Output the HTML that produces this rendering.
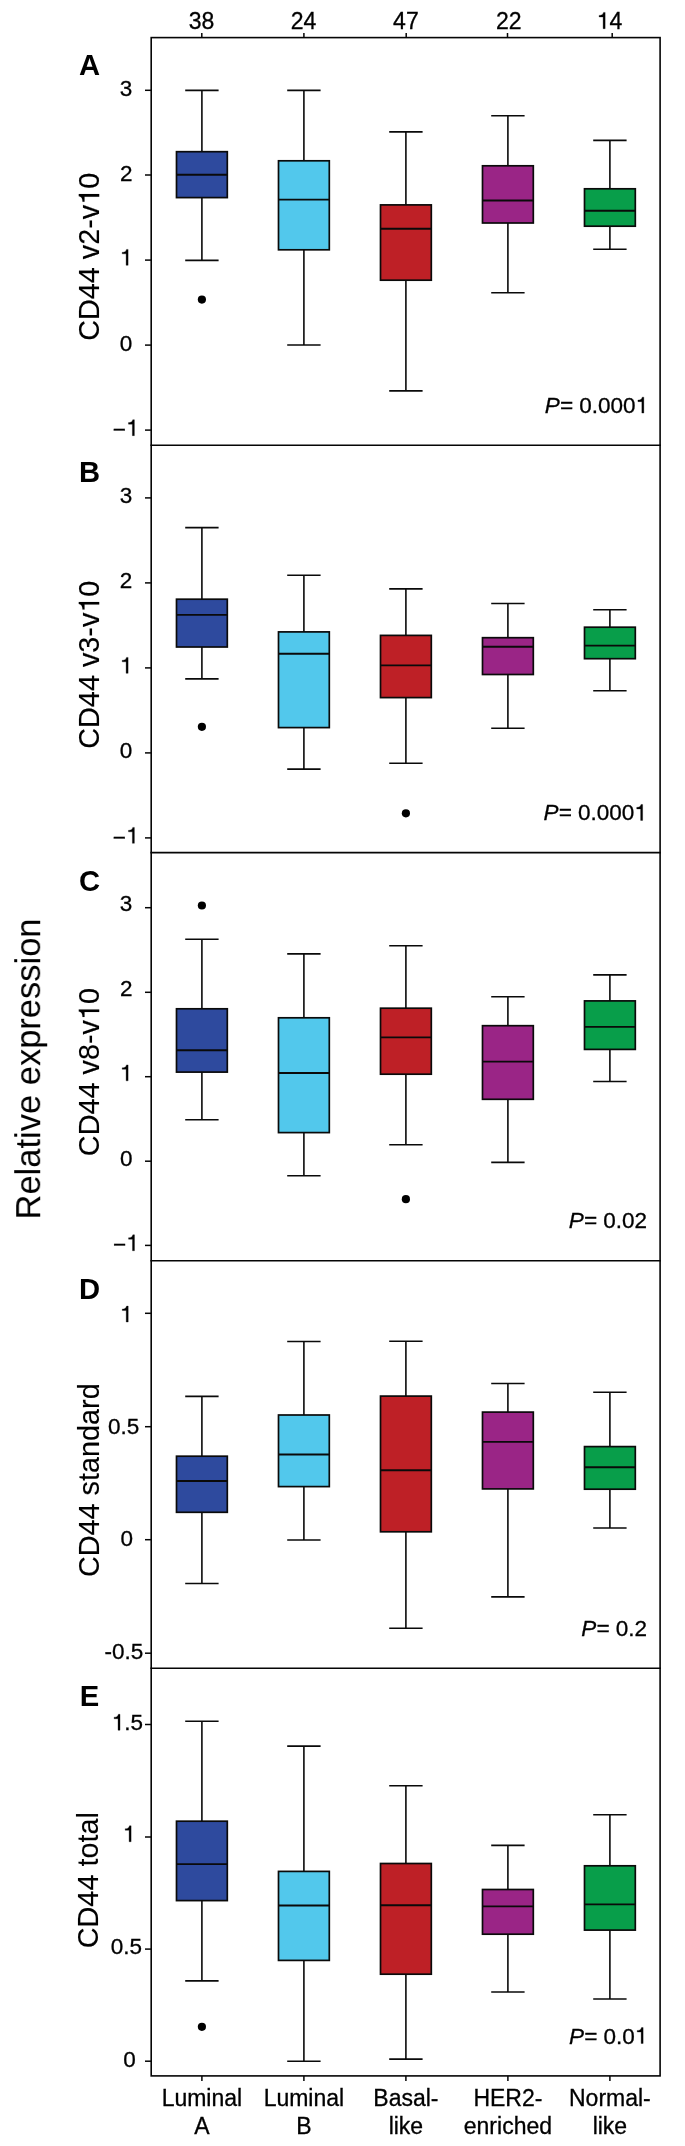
<!DOCTYPE html>
<html><head><meta charset="utf-8"><title>CD44 isoform expression by subtype</title>
<style>
html,body{margin:0;padding:0;background:#fff;}
body{width:685px;height:2146px;overflow:hidden;font-family:"Liberation Sans",sans-serif;}
svg{display:block;}
</style></head>
<body>
<svg width="685" height="2146" viewBox="0 0 685 2146">
<rect width="685" height="2146" fill="#fff"/>
<g stroke="#050505" stroke-width="1.6" fill="none" stroke-linecap="square">
<rect x="151.2" y="37.6" width="508.9" height="2038.3"/>
<line x1="151.2" y1="445.2" x2="660.1" y2="445.2"/>
<line x1="151.2" y1="852.6" x2="660.1" y2="852.6"/>
<line x1="151.2" y1="1260.8" x2="660.1" y2="1260.8"/>
<line x1="151.2" y1="1668.3" x2="660.1" y2="1668.3"/>
</g>
<g stroke="#050505" stroke-width="1.5" fill="none">
<line x1="201.8" y1="33" x2="201.8" y2="37.6"/>
<line x1="201.9" y1="2075.9" x2="201.9" y2="2080.9"/>
<line x1="303.9" y1="33" x2="303.9" y2="37.6"/>
<line x1="303.9" y1="2075.9" x2="303.9" y2="2080.9"/>
<line x1="406.2" y1="33" x2="406.2" y2="37.6"/>
<line x1="405.9" y1="2075.9" x2="405.9" y2="2080.9"/>
<line x1="507.5" y1="33" x2="507.5" y2="37.6"/>
<line x1="507.9" y1="2075.9" x2="507.9" y2="2080.9"/>
<line x1="612.2" y1="33" x2="612.2" y2="37.6"/>
<line x1="609.9" y1="2075.9" x2="609.9" y2="2080.9"/>
<line x1="145" y1="90.3" x2="151.2" y2="90.3"/>
<line x1="145" y1="175" x2="151.2" y2="175"/>
<line x1="145" y1="260.1" x2="151.2" y2="260.1"/>
<line x1="145" y1="345.1" x2="151.2" y2="345.1"/>
<line x1="145" y1="430.1" x2="151.2" y2="430.1"/>
<line x1="145" y1="497.9" x2="151.2" y2="497.9"/>
<line x1="145" y1="582.9" x2="151.2" y2="582.9"/>
<line x1="145" y1="667.9" x2="151.2" y2="667.9"/>
<line x1="145" y1="752.9" x2="151.2" y2="752.9"/>
<line x1="145" y1="837.9" x2="151.2" y2="837.9"/>
<line x1="145" y1="907.7" x2="151.2" y2="907.7"/>
<line x1="145" y1="992.3" x2="151.2" y2="992.3"/>
<line x1="145" y1="1076.7" x2="151.2" y2="1076.7"/>
<line x1="145" y1="1161.2" x2="151.2" y2="1161.2"/>
<line x1="145" y1="1245.4" x2="151.2" y2="1245.4"/>
<line x1="145" y1="1313.3" x2="151.2" y2="1313.3"/>
<line x1="145" y1="1426.7" x2="151.2" y2="1426.7"/>
<line x1="145" y1="1539.7" x2="151.2" y2="1539.7"/>
<line x1="145" y1="1653.2" x2="151.2" y2="1653.2"/>
<line x1="145" y1="1724.5" x2="151.2" y2="1724.5"/>
<line x1="145" y1="1837" x2="151.2" y2="1837"/>
<line x1="145" y1="1949.1" x2="151.2" y2="1949.1"/>
<line x1="145" y1="2061.2" x2="151.2" y2="2061.2"/>
</g>
<path d="M201.9 90.4V151.7M201.9 197.6V260.4M185.2 90.4H218.6M185.2 260.4H218.6" fill="none" stroke="#0a0a0a" stroke-width="1.6"/><rect x="176.5" y="151.7" width="50.8" height="45.9" fill="#2E4A9E" stroke="#0a0a0a" stroke-width="1.7"/><line x1="176.5" y1="174.8" x2="227.3" y2="174.8" stroke="#0a0a0a" stroke-width="1.9"/><circle cx="201.9" cy="299.6" r="4.1" fill="#000"/>
<path d="M303.9 90.4V160.8M303.9 249.8V345M287.2 90.4H320.6M287.2 345H320.6" fill="none" stroke="#0a0a0a" stroke-width="1.6"/><rect x="278.5" y="160.8" width="50.8" height="89" fill="#52C8EC" stroke="#0a0a0a" stroke-width="1.7"/><line x1="278.5" y1="199.6" x2="329.3" y2="199.6" stroke="#0a0a0a" stroke-width="1.9"/>
<path d="M405.9 131.9V204.9M405.9 280.2V390.9M389.2 131.9H422.6M389.2 390.9H422.6" fill="none" stroke="#0a0a0a" stroke-width="1.6"/><rect x="380.5" y="204.9" width="50.8" height="75.3" fill="#BE2026" stroke="#0a0a0a" stroke-width="1.7"/><line x1="380.5" y1="228.8" x2="431.3" y2="228.8" stroke="#0a0a0a" stroke-width="1.9"/>
<path d="M507.9 115.8V165.8M507.9 223V292.8M491.2 115.8H524.6M491.2 292.8H524.6" fill="none" stroke="#0a0a0a" stroke-width="1.6"/><rect x="482.5" y="165.8" width="50.8" height="57.2" fill="#9A2586" stroke="#0a0a0a" stroke-width="1.7"/><line x1="482.5" y1="200.5" x2="533.3" y2="200.5" stroke="#0a0a0a" stroke-width="1.9"/>
<path d="M609.9 140.4V188.8M609.9 226.2V249.3M593.2 140.4H626.6M593.2 249.3H626.6" fill="none" stroke="#0a0a0a" stroke-width="1.6"/><rect x="584.5" y="188.8" width="50.8" height="37.4" fill="#089E4A" stroke="#0a0a0a" stroke-width="1.7"/><line x1="584.5" y1="210.7" x2="635.3" y2="210.7" stroke="#0a0a0a" stroke-width="1.9"/>
<path d="M201.9 527.6V599.2M201.9 647V678.9M185.2 527.6H218.6M185.2 678.9H218.6" fill="none" stroke="#0a0a0a" stroke-width="1.6"/><rect x="176.5" y="599.2" width="50.8" height="47.8" fill="#2E4A9E" stroke="#0a0a0a" stroke-width="1.7"/><line x1="176.5" y1="614.9" x2="227.3" y2="614.9" stroke="#0a0a0a" stroke-width="1.9"/><circle cx="201.9" cy="726.8" r="4.1" fill="#000"/>
<path d="M303.9 575.2V631.9M303.9 727.6V769.1M287.2 575.2H320.6M287.2 769.1H320.6" fill="none" stroke="#0a0a0a" stroke-width="1.6"/><rect x="278.5" y="631.9" width="50.8" height="95.7" fill="#52C8EC" stroke="#0a0a0a" stroke-width="1.7"/><line x1="278.5" y1="653.8" x2="329.3" y2="653.8" stroke="#0a0a0a" stroke-width="1.9"/>
<path d="M405.9 588.9V635.4M405.9 697.6V763.2M389.2 588.9H422.6M389.2 763.2H422.6" fill="none" stroke="#0a0a0a" stroke-width="1.6"/><rect x="380.5" y="635.4" width="50.8" height="62.2" fill="#BE2026" stroke="#0a0a0a" stroke-width="1.7"/><line x1="380.5" y1="665.4" x2="431.3" y2="665.4" stroke="#0a0a0a" stroke-width="1.9"/><circle cx="405.9" cy="813.3" r="4.1" fill="#000"/>
<path d="M507.9 603.5V637.7M507.9 674.5V728.2M491.2 603.5H524.6M491.2 728.2H524.6" fill="none" stroke="#0a0a0a" stroke-width="1.6"/><rect x="482.5" y="637.7" width="50.8" height="36.8" fill="#9A2586" stroke="#0a0a0a" stroke-width="1.7"/><line x1="482.5" y1="646.8" x2="533.3" y2="646.8" stroke="#0a0a0a" stroke-width="1.9"/>
<path d="M609.9 609.7V627.2M609.9 658.7V690.8M593.2 609.7H626.6M593.2 690.8H626.6" fill="none" stroke="#0a0a0a" stroke-width="1.6"/><rect x="584.5" y="627.2" width="50.8" height="31.5" fill="#089E4A" stroke="#0a0a0a" stroke-width="1.7"/><line x1="584.5" y1="645.6" x2="635.3" y2="645.6" stroke="#0a0a0a" stroke-width="1.9"/>
<path d="M201.9 939.3V1008.8M201.9 1072.1V1119.7M185.2 939.3H218.6M185.2 1119.7H218.6" fill="none" stroke="#0a0a0a" stroke-width="1.6"/><rect x="176.5" y="1008.8" width="50.8" height="63.3" fill="#2E4A9E" stroke="#0a0a0a" stroke-width="1.7"/><line x1="176.5" y1="1050.2" x2="227.3" y2="1050.2" stroke="#0a0a0a" stroke-width="1.9"/><circle cx="201.9" cy="905.5" r="4.1" fill="#000"/>
<path d="M303.9 953.9V1017.8M303.9 1132.6V1175.8M287.2 953.9H320.6M287.2 1175.8H320.6" fill="none" stroke="#0a0a0a" stroke-width="1.6"/><rect x="278.5" y="1017.8" width="50.8" height="114.8" fill="#52C8EC" stroke="#0a0a0a" stroke-width="1.7"/><line x1="278.5" y1="1073" x2="329.3" y2="1073" stroke="#0a0a0a" stroke-width="1.9"/>
<path d="M405.9 945.7V1008.2M405.9 1074.2V1144.8M389.2 945.7H422.6M389.2 1144.8H422.6" fill="none" stroke="#0a0a0a" stroke-width="1.6"/><rect x="380.5" y="1008.2" width="50.8" height="66" fill="#BE2026" stroke="#0a0a0a" stroke-width="1.7"/><line x1="380.5" y1="1037.4" x2="431.3" y2="1037.4" stroke="#0a0a0a" stroke-width="1.9"/><circle cx="405.9" cy="1199.2" r="4.1" fill="#000"/>
<path d="M507.9 996.8V1025.7M507.9 1099.3V1162.4M491.2 996.8H524.6M491.2 1162.4H524.6" fill="none" stroke="#0a0a0a" stroke-width="1.6"/><rect x="482.5" y="1025.7" width="50.8" height="73.6" fill="#9A2586" stroke="#0a0a0a" stroke-width="1.7"/><line x1="482.5" y1="1061.6" x2="533.3" y2="1061.6" stroke="#0a0a0a" stroke-width="1.9"/>
<path d="M609.9 974.9V1000.9M609.9 1049.4V1081.5M593.2 974.9H626.6M593.2 1081.5H626.6" fill="none" stroke="#0a0a0a" stroke-width="1.6"/><rect x="584.5" y="1000.9" width="50.8" height="48.5" fill="#089E4A" stroke="#0a0a0a" stroke-width="1.7"/><line x1="584.5" y1="1026.9" x2="635.3" y2="1026.9" stroke="#0a0a0a" stroke-width="1.9"/>
<path d="M201.9 1396.4V1456.2M201.9 1512.3V1583.5M185.2 1396.4H218.6M185.2 1583.5H218.6" fill="none" stroke="#0a0a0a" stroke-width="1.6"/><rect x="176.5" y="1456.2" width="50.8" height="56.1" fill="#2E4A9E" stroke="#0a0a0a" stroke-width="1.7"/><line x1="176.5" y1="1481" x2="227.3" y2="1481" stroke="#0a0a0a" stroke-width="1.9"/>
<path d="M303.9 1341.5V1415M303.9 1486.6V1540M287.2 1341.5H320.6M287.2 1540H320.6" fill="none" stroke="#0a0a0a" stroke-width="1.6"/><rect x="278.5" y="1415" width="50.8" height="71.6" fill="#52C8EC" stroke="#0a0a0a" stroke-width="1.7"/><line x1="278.5" y1="1454.5" x2="329.3" y2="1454.5" stroke="#0a0a0a" stroke-width="1.9"/>
<path d="M405.9 1341.2V1396.1M405.9 1531.8V1628.2M389.2 1341.2H422.6M389.2 1628.2H422.6" fill="none" stroke="#0a0a0a" stroke-width="1.6"/><rect x="380.5" y="1396.1" width="50.8" height="135.7" fill="#BE2026" stroke="#0a0a0a" stroke-width="1.7"/><line x1="380.5" y1="1470.2" x2="431.3" y2="1470.2" stroke="#0a0a0a" stroke-width="1.9"/>
<path d="M507.9 1383.5V1412.1M507.9 1488.9V1596.9M491.2 1383.5H524.6M491.2 1596.9H524.6" fill="none" stroke="#0a0a0a" stroke-width="1.6"/><rect x="482.5" y="1412.1" width="50.8" height="76.8" fill="#9A2586" stroke="#0a0a0a" stroke-width="1.7"/><line x1="482.5" y1="1441.9" x2="533.3" y2="1441.9" stroke="#0a0a0a" stroke-width="1.9"/>
<path d="M609.9 1392.3V1446.6M609.9 1489.2V1528M593.2 1392.3H626.6M593.2 1528H626.6" fill="none" stroke="#0a0a0a" stroke-width="1.6"/><rect x="584.5" y="1446.6" width="50.8" height="42.6" fill="#089E4A" stroke="#0a0a0a" stroke-width="1.7"/><line x1="584.5" y1="1467.3" x2="635.3" y2="1467.3" stroke="#0a0a0a" stroke-width="1.9"/>
<path d="M201.9 1721.3V1821.2M201.9 1900.6V1980.9M185.2 1721.3H218.6M185.2 1980.9H218.6" fill="none" stroke="#0a0a0a" stroke-width="1.6"/><rect x="176.5" y="1821.2" width="50.8" height="79.4" fill="#2E4A9E" stroke="#0a0a0a" stroke-width="1.7"/><line x1="176.5" y1="1864.1" x2="227.3" y2="1864.1" stroke="#0a0a0a" stroke-width="1.9"/><circle cx="201.9" cy="2026.8" r="4.1" fill="#000"/>
<path d="M303.9 1746.1V1871.4M303.9 1960.4V2061.2M287.2 1746.1H320.6M287.2 2061.2H320.6" fill="none" stroke="#0a0a0a" stroke-width="1.6"/><rect x="278.5" y="1871.4" width="50.8" height="89" fill="#52C8EC" stroke="#0a0a0a" stroke-width="1.7"/><line x1="278.5" y1="1905.5" x2="329.3" y2="1905.5" stroke="#0a0a0a" stroke-width="1.9"/>
<path d="M405.9 1785.8V1863.5M405.9 1974.2V2059.1M389.2 1785.8H422.6M389.2 2059.1H422.6" fill="none" stroke="#0a0a0a" stroke-width="1.6"/><rect x="380.5" y="1863.5" width="50.8" height="110.7" fill="#BE2026" stroke="#0a0a0a" stroke-width="1.7"/><line x1="380.5" y1="1905.2" x2="431.3" y2="1905.2" stroke="#0a0a0a" stroke-width="1.9"/>
<path d="M507.9 1845.4V1889.5M507.9 1934.2V1992M491.2 1845.4H524.6M491.2 1992H524.6" fill="none" stroke="#0a0a0a" stroke-width="1.6"/><rect x="482.5" y="1889.5" width="50.8" height="44.7" fill="#9A2586" stroke="#0a0a0a" stroke-width="1.7"/><line x1="482.5" y1="1906.4" x2="533.3" y2="1906.4" stroke="#0a0a0a" stroke-width="1.9"/>
<path d="M609.9 1814.7V1865.8M609.9 1930.1V1999M593.2 1814.7H626.6M593.2 1999H626.6" fill="none" stroke="#0a0a0a" stroke-width="1.6"/><rect x="584.5" y="1865.8" width="50.8" height="64.3" fill="#089E4A" stroke="#0a0a0a" stroke-width="1.7"/><line x1="584.5" y1="1904.4" x2="635.3" y2="1904.4" stroke="#0a0a0a" stroke-width="1.9"/>
<g font-family="Liberation Sans, sans-serif" fill="#000" stroke="#000" stroke-width="0.3" style="filter:grayscale(1)">
<text id="t1" x="201.6" y="28.7" font-size="23" text-anchor="middle">38</text>
<text id="t2" x="303.6" y="28.7" font-size="23" text-anchor="middle">24</text>
<text id="t3" x="405.9" y="28.7" font-size="23" text-anchor="middle">47</text>
<text id="t4" x="508.7" y="28.7" font-size="23" text-anchor="middle">22</text>
<text id="t5" x="609.4" y="28.7" font-size="23" text-anchor="middle"> 4</text><path d="M283 0L372 0L372 709L299 709C288 656 264 622 226 603C194 587 154 581 109 579L109 510L283 510Z" transform="matrix(0.02300 0 0 -0.02300 596.6 28.7)" stroke-width="13.043"/>
<text id="t6" x="126" y="95.74" font-size="22.5" text-anchor="middle">3</text>
<text id="t7" x="126.3" y="181.14" font-size="22.5" text-anchor="middle">2</text>
<text id="t8" x="126" y="265.34" font-size="22.5" text-anchor="middle"> </text><path d="M283 0L372 0L372 709L299 709C288 656 264 622 226 603C194 587 154 581 109 579L109 510L283 510Z" transform="matrix(0.02250 0 0 -0.02250 119.74 265.34)" stroke-width="13.333"/>
<text id="t9" x="125.9" y="350.94" font-size="22.5" text-anchor="middle">0</text>
<text id="t10" x="125.7" y="435.64" font-size="22.5" text-anchor="middle"><tspan dy="1.4">−</tspan><tspan dy="-1.4"> </tspan></text><path d="M283 0L372 0L372 709L299 709C288 656 264 622 226 603C194 587 154 581 109 579L109 510L283 510Z" transform="matrix(0.02250 0 0 -0.02250 126.01 435.64)" stroke-width="13.333"/>
<text id="t11" x="126" y="503.04" font-size="22.5" text-anchor="middle">3</text>
<text id="t12" x="126" y="588.34" font-size="22.5" text-anchor="middle">2</text>
<text id="t13" x="126" y="673.34" font-size="22.5" text-anchor="middle"> </text><path d="M283 0L372 0L372 709L299 709C288 656 264 622 226 603C194 587 154 581 109 579L109 510L283 510Z" transform="matrix(0.02250 0 0 -0.02250 119.74 673.34)" stroke-width="13.333"/>
<text id="t14" x="126" y="758.34" font-size="22.5" text-anchor="middle">0</text>
<text id="t15" x="125.7" y="843.34" font-size="22.5" text-anchor="middle"><tspan dy="1.4">−</tspan><tspan dy="-1.4"> </tspan></text><path d="M283 0L372 0L372 709L299 709C288 656 264 622 226 603C194 587 154 581 109 579L109 510L283 510Z" transform="matrix(0.02250 0 0 -0.02250 126.01 843.34)" stroke-width="13.333"/>
<text id="t16" x="126" y="910.74" font-size="22.5" text-anchor="middle">3</text>
<text id="t17" x="126.3" y="996.04" font-size="22.5" text-anchor="middle">2</text>
<text id="t18" x="126" y="1080.84" font-size="22.5" text-anchor="middle"> </text><path d="M283 0L372 0L372 709L299 709C288 656 264 622 226 603C194 587 154 581 109 579L109 510L283 510Z" transform="matrix(0.02250 0 0 -0.02250 119.74 1080.84)" stroke-width="13.333"/>
<text id="t19" x="126.2" y="1166.34" font-size="22.5" text-anchor="middle">0</text>
<text id="t20" x="125.8" y="1250.74" font-size="22.5" text-anchor="middle"><tspan dy="1.4">−</tspan><tspan dy="-1.4"> </tspan></text><path d="M283 0L372 0L372 709L299 709C288 656 264 622 226 603C194 587 154 581 109 579L109 510L283 510Z" transform="matrix(0.02250 0 0 -0.02250 126.11 1250.74)" stroke-width="13.333"/>
<text id="t21" x="126.1" y="1322.04" font-size="22.5" text-anchor="middle"> </text><path d="M283 0L372 0L372 709L299 709C288 656 264 622 226 603C194 587 154 581 109 579L109 510L283 510Z" transform="matrix(0.02250 0 0 -0.02250 119.84 1322.04)" stroke-width="13.333"/>
<text id="t22" x="123.6" y="1434.04" font-size="22.5" text-anchor="middle">0.5</text>
<text id="t23" x="126.7" y="1546.44" font-size="22.5" text-anchor="middle">0</text>
<text id="t24" x="124" y="1659.24" font-size="22.5" text-anchor="middle">-0.5</text>
<text id="t25" x="127.3" y="1730.24" font-size="22.5" text-anchor="middle"> .5</text><path d="M283 0L372 0L372 709L299 709C288 656 264 622 226 603C194 587 154 581 109 579L109 510L283 510Z" transform="matrix(0.02250 0 0 -0.02250 111.66 1730.24)" stroke-width="13.333"/>
<text id="t26" x="129" y="1841.74" font-size="22.5" text-anchor="middle"> </text><path d="M283 0L372 0L372 709L299 709C288 656 264 622 226 603C194 587 154 581 109 579L109 510L283 510Z" transform="matrix(0.02250 0 0 -0.02250 122.74 1841.74)" stroke-width="13.333"/>
<text id="t27" x="126.5" y="1954.24" font-size="22.5" text-anchor="middle">0.5</text>
<text id="t28" x="129.5" y="2066.94" font-size="22.5" text-anchor="middle">0</text>
<text id="t29" x="89.5" y="75" font-size="29.2" text-anchor="middle" font-weight="bold" stroke-width="0">A</text>
<text id="t30" x="89.5" y="482.3" font-size="29.2" text-anchor="middle" font-weight="bold" stroke-width="0">B</text>
<text id="t31" x="89.5" y="891.1" font-size="29.2" text-anchor="middle" font-weight="bold" stroke-width="0">C</text>
<text id="t32" x="89.5" y="1298.5" font-size="29.2" text-anchor="middle" font-weight="bold" stroke-width="0">D</text>
<text id="t33" x="89.5" y="1706" font-size="29.2" text-anchor="middle" font-weight="bold" stroke-width="0">E</text>
<g transform="translate(99.2 256.8) rotate(-90)"><text id="t34" x="0" y="0" font-size="28.8" text-anchor="middle" stroke-width="0.12">CD44 v2-v 0</text><path d="M283 0L372 0L372 709L299 709C288 656 264 622 226 603C194 587 154 581 109 579L109 510L283 510Z" transform="matrix(0.02880 0 0 -0.02880 51.98 0)" stroke-width="4.167"/></g>
<g transform="translate(99.2 664.7) rotate(-90)"><text id="t35" x="0" y="0" font-size="28.8" text-anchor="middle" stroke-width="0.12">CD44 v3-v 0</text><path d="M283 0L372 0L372 709L299 709C288 656 264 622 226 603C194 587 154 581 109 579L109 510L283 510Z" transform="matrix(0.02880 0 0 -0.02880 51.98 0)" stroke-width="4.167"/></g>
<g transform="translate(99.2 1072.1) rotate(-90)"><text id="t36" x="0" y="0" font-size="28.8" text-anchor="middle" stroke-width="0.12">CD44 v8-v 0</text><path d="M283 0L372 0L372 709L299 709C288 656 264 622 226 603C194 587 154 581 109 579L109 510L283 510Z" transform="matrix(0.02880 0 0 -0.02880 51.98 0)" stroke-width="4.167"/></g>
<g transform="translate(99.2 1480.2) rotate(-90)"><text id="t37" x="0" y="0" font-size="28.8" text-anchor="middle" stroke-width="0.12">CD44 standard</text></g>
<g transform="translate(98 1880.2) rotate(-90)"><text id="t38" x="0" y="0" font-size="28.8" text-anchor="middle" stroke-width="0.12">CD44 total</text></g>
<g transform="translate(40.2 1069) rotate(-90)"><text id="t39" x="0" y="0" font-size="34.5" text-anchor="middle" stroke-width="0">Relative expression</text></g>
<text id="t40" x="648" y="413.1" font-size="22.5" text-anchor="end"><tspan font-style="italic">P=</tspan> 0.000 </text><path d="M283 0L372 0L372 709L299 709C288 656 264 622 226 603C194 587 154 581 109 579L109 510L283 510Z" transform="matrix(0.02250 0 0 -0.02250 635.47 413.1)" stroke-width="13.333"/>
<text id="t41" x="646.8" y="820.4" font-size="22.5" text-anchor="end"><tspan font-style="italic">P=</tspan> 0.000 </text><path d="M283 0L372 0L372 709L299 709C288 656 264 622 226 603C194 587 154 581 109 579L109 510L283 510Z" transform="matrix(0.02250 0 0 -0.02250 634.27 820.4)" stroke-width="13.333"/>
<text id="t42" x="647" y="1228.1" font-size="22.5" text-anchor="end"><tspan font-style="italic">P=</tspan> 0.02</text>
<text id="t43" x="647" y="1635.8" font-size="22.5" text-anchor="end"><tspan font-style="italic">P=</tspan> 0.2</text>
<text id="t44" x="647.3" y="2043.5" font-size="22.5" text-anchor="end"><tspan font-style="italic">P=</tspan> 0.0 </text><path d="M283 0L372 0L372 709L299 709C288 656 264 622 226 603C194 587 154 581 109 579L109 510L283 510Z" transform="matrix(0.02250 0 0 -0.02250 634.77 2043.5)" stroke-width="13.333"/>
<text id="t45" x="201.9" y="2105.7" font-size="23" text-anchor="middle">Luminal</text>
<text id="t46" x="201.9" y="2133.7" font-size="23" text-anchor="middle">A</text>
<text id="t47" x="303.9" y="2105.7" font-size="23" text-anchor="middle">Luminal</text>
<text id="t48" x="303.9" y="2133.7" font-size="23" text-anchor="middle">B</text>
<text id="t49" x="405.9" y="2105.7" font-size="23" text-anchor="middle">Basal-</text>
<text id="t50" x="405.9" y="2133.7" font-size="23" text-anchor="middle">like</text>
<text id="t51" x="507.9" y="2105.7" font-size="23" text-anchor="middle">HER2-</text>
<text id="t52" x="507.9" y="2133.7" font-size="23" text-anchor="middle">enriched</text>
<text id="t53" x="609.9" y="2105.7" font-size="23" text-anchor="middle">Normal-</text>
<text id="t54" x="609.9" y="2133.7" font-size="23" text-anchor="middle">like</text>
</g>
</svg>
</body></html>
